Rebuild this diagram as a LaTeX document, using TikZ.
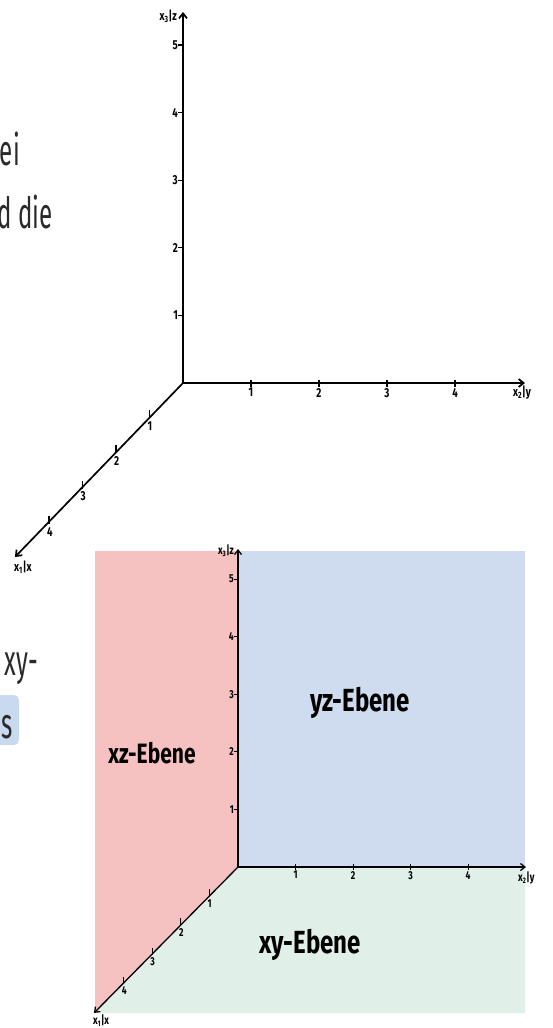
\documentclass[tikz,border=0pt]{standalone}
\usepackage{fontspec}
\usetikzlibrary{arrows.meta,calc}
\newfontfamily\txtfont[FakeStretch=0.56]{Fira Sans}
\newfontfamily\hand[FakeStretch=0.75]{Fira Sans}
\definecolor{xzred}{HTML}{F5C1C1}
\definecolor{yzblue}{HTML}{CFDCEF}
\definecolor{xygreen}{HTML}{E0EFE8}
\definecolor{boxblue}{HTML}{CADAEE}
\definecolor{txtgray}{HTML}{2A2A2A}
\begin{document}
\begin{tikzpicture}[x=1pt,y=-1pt,
  axis/.style={line width=1.7pt,-{Straight Barb[length=5pt,width=8pt]}},
  axisb/.style={line width=1.3pt,-{Straight Barb[length=4.5pt,width=7pt]}},
  tickmark/.style={line width=1.1pt},
  num/.style={font=\hand\bfseries\fontsize{13}{13}\selectfont,inner sep=1pt},
  numb/.style={font=\hand\bfseries\fontsize{11.5}{11.5}\selectfont,inner sep=1pt},
  axlbl/.style={font=\hand\bfseries\fontsize{13}{13}\selectfont,inner sep=0pt},
  axlblb/.style={font=\hand\bfseries\fontsize{12}{12}\selectfont,inner sep=0pt},
  plane/.style={font=\hand\bfseries\fontsize{28}{28}\selectfont,inner sep=0pt},
  planebig/.style={font=\hand\bfseries\fontsize{32}{32}\selectfont,inner sep=0pt},
  sidetext/.style={font=\txtfont\fontsize{43}{43}\selectfont,text=txtgray,inner sep=0pt}]
\useasboundingbox (0,0) rectangle (552,1028);
\fill[white] (0,0) rectangle (552,1028);

% ---------- left text fragments ----------
\node[sidetext,anchor=base east] (t1) at (20,165) {ei};
\node[sidetext,anchor=base east] (t2) at (53,228) {d die};
\node[sidetext,anchor=base east] (t3) at (38,675) {xy-};
\fill[boxblue,rounded corners=5pt] (-10,695) rectangle (19,745);
\node[sidetext,anchor=base east] (t4) at (13,738) {s};

% ---------- top coordinate system ----------
\coordinate (O1) at (183,383);
\coordinate (Z1) at (183,12);
\coordinate (Y1) at (525,383);
\coordinate (X1) at (15,557);
\draw[axis] (O1) -- (Z1);
\draw[axis] (O1) -- (Y1);
\draw[axis] (O1) -- (X1);
\foreach \k in {1,...,5}{
  \coordinate (zt\k) at ($(O1)+(0,-67.6*\k)$);
  \draw[tickmark] (zt\k) -- ++(-5,0);
  \node[num,anchor=east] (zn\k) at ($(zt\k)+(-4,0)$) {\k};
}
\foreach \k in {1,...,4}{
  \coordinate (yt\k) at ($(O1)+(68*\k,0)$);
  \draw[tickmark] ($(yt\k)+(0,-3)$) -- ++(0,7);
  \node[num,anchor=north] (yn\k) at ($(yt\k)+(0,4)$) {\k};
  \coordinate (xt\k) at ($(O1)+(-33.5*\k,35.2*\k)$);
  \draw[tickmark] (xt\k) -- ++(0,-8);
  \node[num,anchor=north west] (xn\k) at ($(xt\k)+(-3,2)$) {\k};
}
\node[axlbl,anchor=east] (zl1) at (177,16) {x\textsubscript{3}|z};
\node[axlbl,anchor=west] (yl1) at (513,393) {x\textsubscript{2}|y};
\node[axlbl,anchor=west] (xl1) at (14,567) {x\textsubscript{1}|x};

% ---------- bottom planes ----------
\coordinate (O2) at (238,867);
\coordinate (Z2) at (238,549);
\coordinate (Y2) at (526,867);
\coordinate (X2) at (94,1013);
\fill[xzred] (95,551) -- (238,551) -- (O2) -- (95,1013) -- cycle;
\fill[yzblue] (238,551) rectangle (525,867);
\fill[xygreen] (O2) -- (525,867) -- (525,1013) -- (95,1013) -- cycle;
\draw[axisb] (O2) -- (Z2);
\draw[axisb] (O2) -- (Y2);
\draw[axisb] (O2) -- (X2);
\foreach \k in {1,...,5}{
  \coordinate (zb\k) at ($(O2)+(0,-57.6*\k)$);
  \draw[tickmark,line width=0.9pt] (zb\k) -- ++(-4,0);
  \node[numb,anchor=east] (zbn\k) at ($(zb\k)+(-3,0)$) {\k};
}
\foreach \k in {1,...,4}{
  \coordinate (yb\k) at ($(O2)+(57.5*\k,0)$);
  \draw[tickmark,line width=0.9pt] ($(yb\k)+(0,-3)$) -- ++(0,6);
  \node[numb,anchor=north] (ybn\k) at ($(yb\k)+(0,3)$) {\k};
  \coordinate (xb\k) at ($(O2)+(-28.6*\k,29.2*\k)$);
  \draw[tickmark,line width=0.9pt] (xb\k) -- ++(0,-7);
  \node[numb,anchor=north west] (xbn\k) at ($(xb\k)+(-3,2)$) {\k};
}
\node[axlblb,anchor=east] (zl2) at (234,551) {x\textsubscript{3}|z};
\node[axlblb,anchor=west] (yl2) at (518,878) {x\textsubscript{2}|y};
\node[axlblb,anchor=west] (xl2) at (93,1021) {x\textsubscript{1}|x};

\node[plane] (xz) at (152,753) {xz-Ebene};
\node[planebig] (yz) at (360,703) {yz-Ebene};
\node[planebig] (xy) at (310,945) {xy-Ebene};
\end{tikzpicture}
\end{document}
